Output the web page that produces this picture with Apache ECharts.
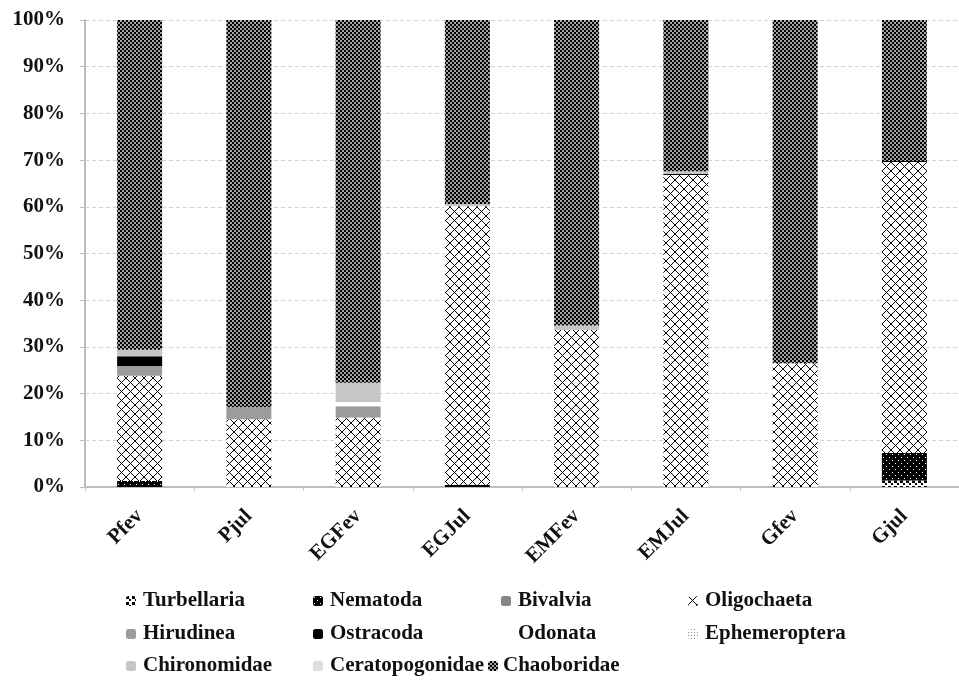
<!DOCTYPE html>
<html>
<head>
<meta charset="utf-8">
<title>Macroinvertebrates composition</title>
<script src="https://cdn.jsdelivr.net/npm/echarts@6/dist/echarts.min.js"></script>
<style>
    html, body { margin: 0; padding: 0; background: #fff; }
    #chart { width: 959px; height: 684px; }
</style>
</head>
<body>
<div id="chart"></div>
<script>
// sites x season
const categories = ['Pfev', 'Pjul', 'EGFev', 'EGJul', 'EMFev', 'EMJul', 'Gfev', 'Gjul'];

// relative abundance (%), bottom of the stack first
const turbellaria     = [0, 0, 0, 0, 0, 0, 0, 1.4];
const nematoda        = [1.3, 0, 0, 0.5, 0, 0, 0, 5.9];
const bivalvia        = [0, 0, 0, 0, 0, 0, 0, 0];
const oligochaeta     = [22.5, 14.5, 14.9, 59.6, 33.6, 66.8, 26.5, 62.3];
const hirudinea       = [2.1, 2.6, 2.4, 0, 0, 0, 0, 0];
const ostracoda       = [2.1, 0, 0, 0, 0, 0.2, 0, 0.2];
const odonata         = [0, 0, 0.9, 0, 0, 0, 0, 0];
const ephemeroptera   = [0, 0, 0, 0, 0, 0, 0, 0];
const chironomidae    = [1.4, 0, 4.1, 0.5, 1.0, 0.6, 0, 0];
const ceratopogonidae = [0, 0, 0, 0, 0, 0, 0, 0];
const chaoboridae     = [70.6, 82.9, 77.7, 39.4, 65.4, 32.4, 73.5, 30.2];

const FONT = '"Liberation Serif", "Times New Roman", serif';

// small canvas tiles used as fill patterns (Excel-like hatches)
function pattern (w, h, draw) {
    const c = document.createElement('canvas');
    c.width = w;
    c.height = h;
    const ctx = c.getContext('2d');
    draw(ctx, w, h);
    return { image: c, repeat: 'repeat' };
}

const checker = pattern(4, 4, (ctx) => {
    ctx.fillStyle = '#000';
    ctx.fillRect(0, 0, 4, 4);
    ctx.fillStyle = '#fff';
    ctx.fillRect(0.2, 0.2, 1.6, 1.6);
    ctx.fillRect(2.2, 2.2, 1.6, 1.6);
});

const crossHatch = pattern(9, 9, (ctx) => {
    ctx.fillStyle = '#fff';
    ctx.fillRect(0, 0, 9, 9);
    ctx.strokeStyle = '#000';
    ctx.lineWidth = 1;
    ctx.beginPath();
    ctx.moveTo(0, 0); ctx.lineTo(9, 9);
    ctx.moveTo(9, 0); ctx.lineTo(0, 9);
    ctx.stroke();
});

const blackDots = pattern(6, 6, (ctx) => {
    ctx.fillStyle = '#000';
    ctx.fillRect(0, 0, 6, 6);
    ctx.fillStyle = '#fff';
    ctx.fillRect(1, 1, 1, 1);
    ctx.fillRect(4, 4, 1, 1);
});

const blobs = pattern(6, 6, (ctx) => {
    ctx.fillStyle = '#fff';
    ctx.fillRect(0, 0, 6, 6);
    ctx.fillStyle = '#000';
    ctx.fillRect(0, 0, 3, 3);
    ctx.fillRect(3, 3, 2, 2);
});

const grayGrid = pattern(3, 3, (ctx) => {
    ctx.fillStyle = '#fff';
    ctx.fillRect(0, 0, 3, 3);
    ctx.fillStyle = '#8a8a8a';
    ctx.fillRect(0, 0, 1, 1);
});

const seriesDefs = [
    { name: 'Turbellaria', data: turbellaria, color: blobs },
    { name: 'Nematoda', data: nematoda, color: blackDots },
    { name: 'Bivalvia', data: bivalvia, color: '#858585' },
    { name: 'Oligochaeta', data: oligochaeta, color: crossHatch },
    { name: 'Hirudinea', data: hirudinea, color: '#9c9c9c' },
    { name: 'Ostracoda', data: ostracoda, color: '#000000' },
    { name: 'Odonata', data: odonata, color: '#ffffff' },
    { name: 'Ephemeroptera', data: ephemeroptera, color: grayGrid },
    { name: 'Chironomidae', data: chironomidae, color: '#c6c6c6' },
    { name: 'Ceratopogonidae', data: ceratopogonidae, color: '#dedede' },
    { name: 'Chaoboridae', data: chaoboridae, color: checker }
];

// legend slots: [name, left, middle y]
const legendSlots = [
    ['Turbellaria', 126, 601], ['Nematoda', 313, 601], ['Bivalvia', 501, 601], ['Oligochaeta', 688, 601],
    ['Hirudinea', 126, 634], ['Ostracoda', 313, 634], ['Odonata', 501, 634], ['Ephemeroptera', 688, 634],
    ['Chironomidae', 126, 666], ['Ceratopogonidae', 313, 666], ['Chaoboridae', 488, 666]
];

const option = {
    animation: false,
    backgroundColor: '#fff',
    textStyle: { fontFamily: FONT },
    grid: {
        left: 85,
        top: 20,
        width: 885,
        height: 467,
        containLabel: false
    },
    legend: legendSlots.map(([name, left, mid]) => ({
        data: [name],
        left: left,
        top: mid - 11,
        padding: 0,
        itemWidth: 10,
        itemHeight: 10,
        selectedMode: false,
        textStyle: {
            fontFamily: FONT,
            fontWeight: 'bold',
            fontSize: 21,
            lineHeight: 22,
            color: '#111',
            padding: [0, 0, 0, name === 'Chaoboridae' ? 0 : 2]
        }
    })),
    xAxis: {
        type: 'category',
        data: categories,
        axisLine: { show: true, lineStyle: { color: '#bdbdbd', width: 2 } },
        axisTick: { show: true, length: 4, lineStyle: { color: '#c8c8c8' } },
        axisLabel: {
            rotate: 45,
            margin: 26,
            fontFamily: FONT,
            fontWeight: 'bold',
            fontSize: 21,
            color: '#111'
        }
    },
    yAxis: {
        type: 'value',
        min: 0,
        max: 100,
        interval: 10,
        axisLine: { show: true, lineStyle: { color: '#bdbdbd', width: 2 } },
        axisTick: { show: true, length: 5, lineStyle: { color: '#bdbdbd' } },
        splitLine: { show: true, lineStyle: { color: '#d2d2d2', type: [4, 3], width: 1 } },
        axisLabel: {
            formatter: '{value}%',
            margin: 20,
            fontFamily: FONT,
            fontWeight: 'bold',
            fontSize: 21,
            color: '#111'
        }
    },
    series: seriesDefs.map((s) => ({
        name: s.name,
        type: 'bar',
        stack: 'total',
        barWidth: 45,
        data: s.data,
        itemStyle: { color: s.color },
        emphasis: { disabled: true }
    }))
};

const chart = echarts.init(document.getElementById('chart'));
chart.setOption(option);
</script>
</body>
</html>
